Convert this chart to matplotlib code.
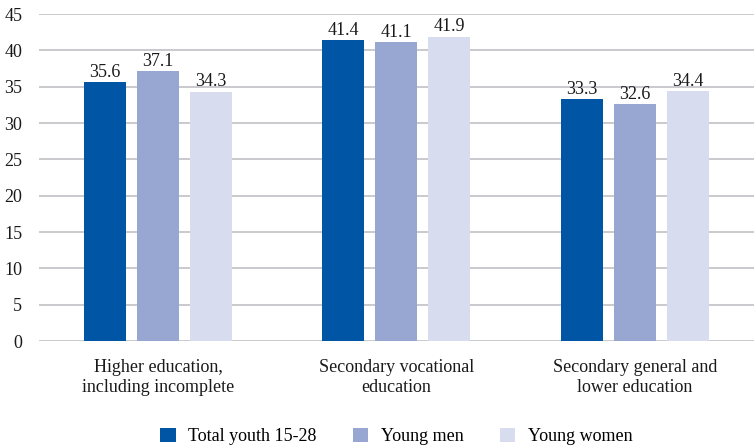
import matplotlib
matplotlib.use("Agg")
import matplotlib.pyplot as plt
import numpy as np

categories = ["Higher education,\nincluding incomplete",
              "Secondary vocational\neducation",
              "Secondary general and\nlower education"]
series_names = ["Total youth 15-28", "Young men", "Young women"]
total_youth = [35.6, 41.4, 33.3]
young_men = [37.1, 41.1, 32.6]
young_women = [34.3, 41.9, 34.4]
y_ticks = [0, 5, 10, 15, 20, 25, 30, 35, 40, 45]

colors = ["#0055a4", "#97a7d1", "#d7dcee"]

plt.rcParams["font.family"] = ["Liberation Serif", "DejaVu Serif"]
FS = 13

fig = plt.figure(figsize=(7.55, 4.46), dpi=100)
ax = fig.add_axes([0.0515, 0.2354, 0.947, 0.7332])

x = np.arange(len(categories))
width = 0.176
step = 0.222
series = [total_youth, young_men, young_women]
for i, (name, vals, c) in enumerate(zip(series_names, series, colors)):
    bars = ax.bar(x + (i - 1) * step, vals, width, color=c, label=name, zorder=3)
    ax.bar_label(bars, labels=[f"{v:.1f}" for v in vals], padding=1,
                 fontsize=FS, color="#1a1a1a")

ax.set_xlim(-0.5, len(categories) - 0.5)
ax.set_ylim(0, 45)
ax.set_yticks(y_ticks)
ax.yaxis.grid(True, color="#cacace", linewidth=1.4, zorder=0)
ax.set_axisbelow(True)
for s in ax.spines.values():
    s.set_visible(False)
ax.tick_params(axis="both", length=0, labelsize=FS, colors="#1a1a1a")
ax.tick_params(axis="y", pad=12)
ax.set_xticks(x)
ax.set_xticklabels(categories, fontsize=FS, linespacing=1.25)
ax.tick_params(axis="x", pad=13)

ax.legend(loc="upper center", bbox_to_anchor=(0.5, -0.243), ncol=3, frameon=False,
          fontsize=FS, handlelength=0.85, handleheight=0.85, columnspacing=2.0,
          handletextpad=0.7, borderaxespad=0)

fig.savefig("out.png", dpi=100)
